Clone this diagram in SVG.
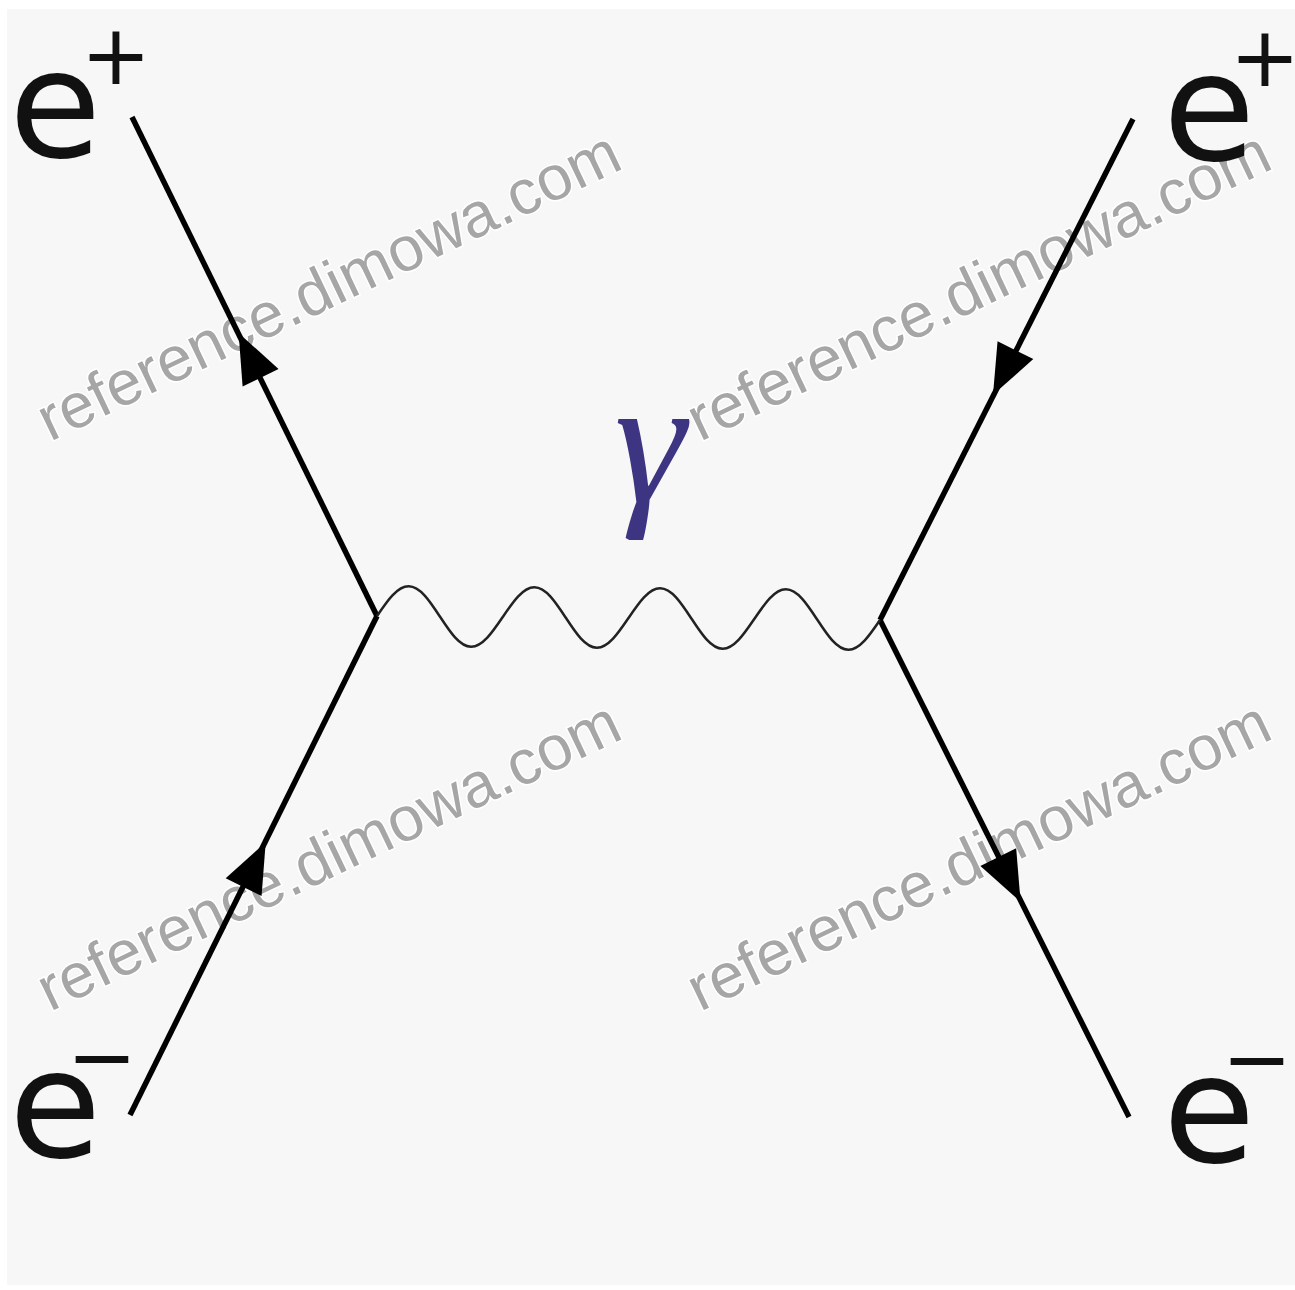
<svg xmlns="http://www.w3.org/2000/svg" width="1295" height="1290" viewBox="0 0 1295 1290">
<style>
.lbl{font-family:"DejaVu Sans","Liberation Sans",sans-serif;fill:#111}
.e{font-size:150px}
.sup{font-size:84px}
.wm{font-family:"Liberation Sans",Arial,sans-serif;font-size:63px;fill:#a6a6a6;stroke:#ffffff;stroke-width:3px;paint-order:stroke}
.fermion{stroke:#000;stroke-width:5.5;fill:none}
.photon{stroke:#222;stroke-width:2.5;fill:none}
.gamma{font-family:"Liberation Serif","Times New Roman",serif;font-style:italic;font-size:180px;fill:#3d3582}
</style>
<defs>
<polygon id="arrow" points="0,0 -50,-20 -50,20" fill="#000"/>
</defs>
<rect x="0" y="0" width="1295" height="1290" fill="#ffffff"/>
<rect x="7" y="9" width="1288" height="1276" fill="#f7f7f7"/>
<g id="watermarks">
<text class="wm" transform="translate(50,442) rotate(-25.5)">reference.dimowa.com</text>
<text class="wm" transform="translate(700,442) rotate(-25.5)">reference.dimowa.com</text>
<text class="wm" transform="translate(50,1012) rotate(-25.5)">reference.dimowa.com</text>
<text class="wm" transform="translate(700,1012) rotate(-25.5)">reference.dimowa.com</text>
</g>
<g id="connectors">
<line class="fermion" x1="377" y1="616" x2="132" y2="117"/>
<line class="fermion" x1="377" y1="616" x2="130" y2="1115"/>
<line class="fermion" x1="880" y1="620" x2="1133" y2="119"/>
<line class="fermion" x1="880" y1="620" x2="1129" y2="1117"/>
<path class="photon" transform="translate(377,616) rotate(0.456)" d="M0,0 c10.25,-15.36 20.01,-30 31.44,-30 c11.43,0 21.19,14.64 31.44,30 c10.25,15.36 20.01,30 31.44,30 c11.43,0 21.19,-14.64 31.44,-30 c10.25,-15.36 20.01,-30 31.44,-30 c11.43,0 21.19,14.64 31.44,30 c10.25,15.36 20.01,30 31.44,30 c11.43,0 21.19,-14.64 31.44,-30 c10.25,-15.36 20.01,-30 31.44,-30 c11.43,0 21.19,14.64 31.44,30 c10.25,15.36 20.01,30 31.44,30 c11.43,0 21.19,-14.64 31.44,-30 c10.25,-15.36 20.01,-30 31.44,-30 c11.43,0 21.19,14.64 31.44,30 c10.25,15.36 20.01,30 31.44,30 c11.43,0 21.19,-14.64 31.44,-30"/>
<use href="#arrow" transform="translate(238.6,332.9) rotate(-116.06)"/>
<use href="#arrow" transform="translate(265.7,842.2) rotate(-63.8)"/>
<use href="#arrow" transform="translate(993,394.8) rotate(116.66)"/>
<use href="#arrow" transform="translate(1020.6,901.9) rotate(63.48)"/>
</g>
<g id="node-positron-in">
<text class="lbl e" x="9" y="157">e</text>
<text class="lbl sup" x="116" y="84" text-anchor="middle">+</text>
</g>
<g id="node-positron-out">
<text class="lbl e" x="1163" y="160">e</text>
<text class="lbl sup" x="1265" y="86" text-anchor="middle">+</text>
</g>
<g id="node-electron-in">
<text class="lbl e" x="9" y="1157">e</text>
<text class="lbl sup" x="102" y="1086" text-anchor="middle">−</text>
</g>
<g id="node-electron-out">
<text class="lbl e" x="1163" y="1162">e</text>
<text class="lbl sup" x="1257" y="1088" text-anchor="middle">−</text>
</g>
<g id="node-photon-label">
<text class="gamma" x="650" y="502" text-anchor="middle">γ</text>
</g>
</svg>
